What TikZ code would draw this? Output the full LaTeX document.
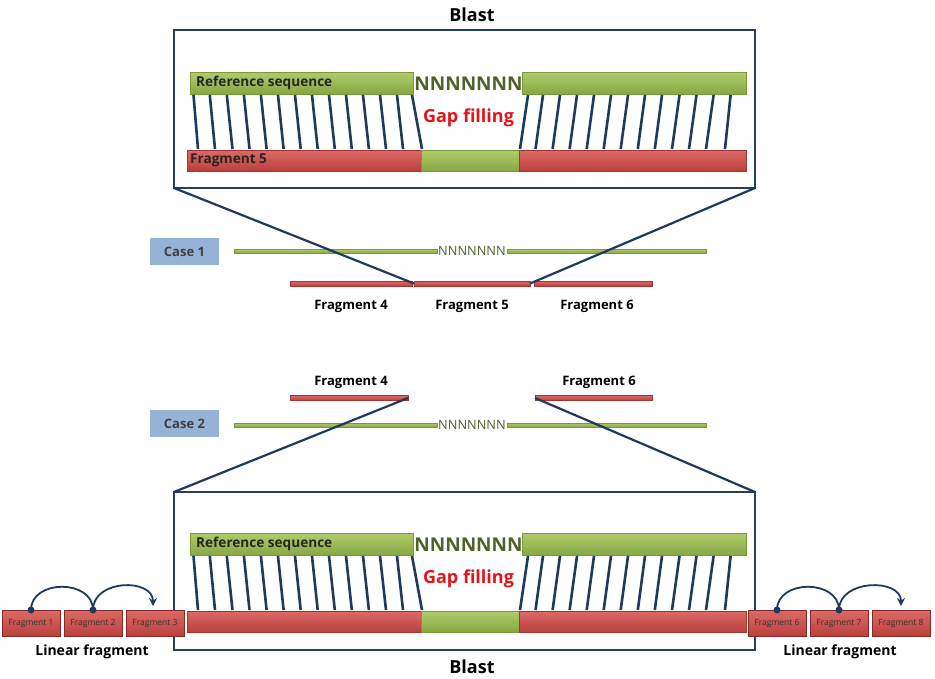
\documentclass[tikz,border=0pt]{standalone}
\usepackage{fontspec}
\setmainfont{Open Sans}
\usetikzlibrary{arrows.meta}
\definecolor{gtop}{HTML}{AFCC6C}
\definecolor{gbot}{HTML}{86A843}
\definecolor{gedge}{HTML}{7A9A3A}
\definecolor{rtop}{HTML}{DC6A66}
\definecolor{rbot}{HTML}{BC403C}
\definecolor{redge}{HTML}{A53532}
\definecolor{navy}{HTML}{1F3A5C}
\definecolor{boxc}{HTML}{243F5E}
\definecolor{nnc}{HTML}{4F6228}
\definecolor{gapc}{HTML}{E3141B}
\definecolor{casec}{HTML}{95B3D7}
\newcommand\fs[1]{\fontsize{#1}{#1}\selectfont}
\tikzset{
  bar/.style={rectangle, inner sep=0pt, outer sep=0pt},
  gbar/.style={bar, top color=gtop, bottom color=gbot, draw=gedge, line width=0.6pt},
  rbar/.style={bar, top color=rtop, bottom color=rbot, draw=redge, line width=0.6pt},
  blastbox/.style={bar, draw=boxc, line width=2.5pt, minimum width=581pt, minimum height=158pt, anchor=north west},
  maplink/.style={draw=navy, line width=2.6pt},
  zoomlink/.style={draw=navy, line width=2.2pt},
  barlabel/.style={anchor=west, inner sep=0pt, font=\fs{13.6}\bfseries, text=black!85},
  ntext/.style={inner sep=0pt, font=\fs{19}\bfseries, text=nnc},
  gaptext/.style={inner sep=0pt, font=\fs{18}\bfseries, text=gapc},
  title/.style={inner sep=0pt, font=\fs{18}\bfseries},
  fraglabel/.style={inner sep=0pt, font=\fs{13}\bfseries},
  casebox/.style={bar, fill=casec, minimum width=69pt, minimum height=27pt, font=\fs{13}\bfseries, text=black!75},
  thinred/.style={rbar, minimum height=5pt, anchor=west, line width=0.4pt},
  thingreen/.style={gbar, minimum height=4pt, anchor=west, line width=0.4pt},
  smalln/.style={inner sep=0pt, font=\fs{12.8}, text=nnc},
  smallfrag/.style={rbar, draw=redge!80!black, line width=0.8pt, minimum width=58pt, minimum height=26pt, font=\fs{8.5}, text=black!80},
  arcline/.style={draw=navy, line width=1.8pt},
  dotc/.style={fill=navy}
}
\newcommand\panelbars[2]{%
  \node[gbar, minimum width=223pt, minimum height=22pt, anchor=north west] (#1refa) at (190,72+#2) {};
  \node[gbar, minimum width=224pt, minimum height=22pt, anchor=north west] (#1refb) at (522,72+#2) {};
  \node[barlabel] (#1reflab) at ([xshift=6pt]#1refa.west) {Reference sequence};
  \node[ntext] (#1nn) at (468.5,84+#2) {NNNNNNN};
  \node[gaptext] (#1gap) at (468.5,118+#2) {Gap filling};
  \node[rbar, minimum width=234pt, minimum height=21pt, anchor=north west] (#1fa) at (187,150+#2) {};
  \node[gbar, minimum width=98pt, minimum height=21pt, anchor=north west] (#1fg) at (421,150+#2) {};
  \node[rbar, minimum width=227pt, minimum height=21pt, anchor=north west] (#1fb) at (519,150+#2) {};
  \foreach \a/\b in {193.5/198, 209.8/215, 226.8/232.5, 243.9/249.5, 260.9/266.6, 278/283.6, 295/300.7, 312/317.7, 329/334.8, 346/351.8, 363/368.9, 380/386, 397/403, 412/422,
                     528/520, 543/535.5, 560/552.6, 577/569.6, 594/586.7, 611/603.7, 628/620.7, 645/637.8, 662/654.8, 679.5/672, 696.5/689, 713.6/706, 730.6/725}
    \draw[maplink] (\a,95+#2) -- (\b,149+#2);
}
\begin{document}
\begin{tikzpicture}[x=1pt,y=-1pt]
\useasboundingbox[fill=white] (0,0) rectangle (935,678);

% ---------- top Blast panel ----------
\node[title] (blast1t) at (472,15) {Blast};
\node[blastbox] (blast1) at (174,30) {};
\panelbars{p1}{0}
\node[barlabel] (f5lab) at ([xshift=3pt]p1fa.west) {Fragment 5};

% ---------- Case 1 ----------
\node[casebox] (case1) at (184.5,251.5) {Case 1};
\node[smalln] (c1nn) at (472,251) {NNNNNNN};
\node[thingreen, minimum width=203pt] (c1la) at (234,251) {};
\node[thingreen, minimum width=199pt] (c1lb) at (507,251) {};
\node[thinred, minimum width=122pt] (c1f4) at (290,283.5) {};
\node[thinred, minimum width=116pt] (c1f5) at (414,283.5) {};
\node[thinred, minimum width=118pt] (c1f6) at (534,283.5) {};
\node[fraglabel] (c1f4l) at (351,306) {Fragment 4};
\node[fraglabel] (c1f5l) at (472,306) {Fragment 5};
\node[fraglabel] (c1f6l) at (597,306) {Fragment 6};
\draw[zoomlink] (blast1.south west) -- (c1f5.west);
\draw[zoomlink] (blast1.south east) -- (c1f5.east);

% ---------- Case 2 ----------
\node[fraglabel] (c2f4l) at (351,382) {Fragment 4};
\node[fraglabel] (c2f6l) at (599,382) {Fragment 6};
\node[thinred, minimum width=118pt] (c2f4) at (290,398) {};
\node[thinred, minimum width=117pt] (c2f6) at (535,398) {};
\node[casebox] (case2) at (184.5,423.5) {Case 2};
\node[smalln] (c2nn) at (472,425) {NNNNNNN};
\node[thingreen, minimum width=203pt] (c2la) at (234,425) {};
\node[thingreen, minimum width=199pt] (c2lb) at (507,425) {};

% ---------- bottom Blast panel ----------
\node[blastbox] (blast2) at (174,492) {};
\draw[zoomlink] (c2f4.east) -- (blast2.north west);
\draw[zoomlink] (c2f6.west) -- (blast2.north east);
\panelbars{p2}{461}
\node[title] (blast2t) at (472,667) {Blast};

% ---------- linear fragments ----------
\node[smallfrag] (fr1) at (31,623) {Fragment 1};
\node[smallfrag] (fr2) at (93,623) {Fragment 2};
\node[smallfrag] (fr3) at (155,623) {Fragment 3};
\node[smallfrag] (fr6) at (777,623) {Fragment 6};
\node[smallfrag] (fr7) at (839,623) {Fragment 7};
\node[smallfrag] (fr8) at (901,623) {Fragment 8};
\draw[arcline] (fr1.north) .. controls +(0,-31) and +(0,-31) .. (fr2.north);
\draw[arcline, -{Stealth[length=8pt,width=8pt]}] (fr2.north) .. controls +(0,-31) and +(0,-28) .. ([xshift=-2pt,yshift=4pt]fr3.north);
\draw[arcline] (fr6.north) .. controls +(0,-31) and +(0,-31) .. (fr7.north);
\draw[arcline, -{Stealth[length=8pt,width=8pt]}] (fr7.north) .. controls +(0,-31) and +(0,-28) .. ([yshift=4pt]fr8.north);
\fill[dotc] (fr1.north) circle (3.5);
\fill[dotc] (fr2.north) circle (3.5);
\fill[dotc] (fr6.north) circle (3.5);
\fill[dotc] (fr7.north) circle (3.5);
\node[fraglabel, font=\fs{14}\bfseries] (lin1) at (92,652) {Linear fragment};
\node[fraglabel, font=\fs{14}\bfseries] (lin2) at (840,652) {Linear fragment};
\end{tikzpicture}
\end{document}
